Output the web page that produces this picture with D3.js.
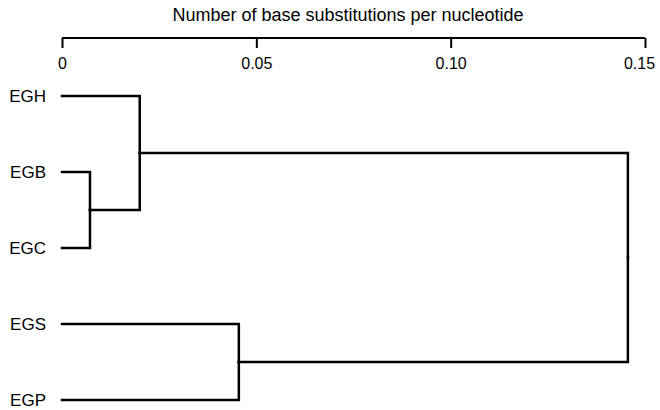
<!DOCTYPE html>
<html>
<head>
<meta charset="utf-8">
<script src="https://cdn.jsdelivr.net/npm/d3@7"></script>
<style>
    body { margin: 0; background: #fff; }
    svg { display: block; font-family: "Liberation Sans", Arial, Helvetica, sans-serif; }
    .axis path, .axis line { stroke: #000; stroke-width: 2px; }
    .axis text { font-size: 16px; fill: #000; }
    .branch { fill: none; stroke: #000; stroke-width: 2.5px; stroke-linecap: square; }
    .leaf-label { font-size: 17px; fill: #000; }
    .title { font-size: 18px; fill: #000; }
</style>
</head>
<body>
<div id="chart"></div>
<script>
// leaves, top to bottom
var leafNames = ["EGH", "EGB", "EGC", "EGS", "EGP"];

// joins: [child a, child b, branch height]
var joinNames = ["BC", "HBC", "SP", "root"];
var joinChildren = [["EGB", "EGC"], ["EGH", "BC"], ["EGS", "EGP"], ["HBC", "SP"]];
var joinHeights = [0.0072, 0.020, 0.0455, 0.1456];

var tickValues = [0, 0.05, 0.10, 0.15];
var tickLabels = ["0", "0.05", "0.10", "0.15"];
var axisTitle = "Number of base substitutions per nucleotide";

(function() {
    var w = 660, h = 410;
    var margin = {top: 38, left: 62, right: 15, bottom: 8};

    var svg = d3.select("#chart").append("svg")
        .attr("width", w)
        .attr("height", h);

    var x = d3.scaleLinear()
        .domain([0, 0.15])
        .range([margin.left, w - margin.right]);

    var y = d3.scalePoint()
        .domain(leafNames)
        .range([96, 400]);

    // build tree
    var heightOf = {}, kids = {};
    leafNames.forEach(function(n) { heightOf[n] = 0; });
    joinNames.forEach(function(n, i) {
        heightOf[n] = joinHeights[i];
        kids[n] = joinChildren[i];
    });
    function build(name) {
        var node = {name: name, h: heightOf[name]};
        if (kids[name]) node.children = kids[name].map(build);
        return node;
    }
    var root = d3.hierarchy(build("root"));

    // y of internal nodes = midpoint of children
    root.eachAfter(function(d) {
        d.py = d.children ? d3.mean(d.children, c => c.py) : y(d.data.name);
        d.px = x(d.data.h);
    });

    var xAxis = d3.axisBottom(x)
        .tickValues(tickValues)
        .tickFormat((d, i) => tickLabels[i])
        .tickSizeInner(10)
        .tickSizeOuter(0)
        .tickPadding(10);

    var gx = svg.append("g")
        .attr("class", "axis")
        .attr("transform", "translate(0," + margin.top + ")")
        .call(xAxis)
        .call(g => g.select(".domain").attr("d", "M" + x(0) + ",0H" + x(0.15)));

    // last label sits a bit left so it stays inside the frame
    gx.selectAll(".tick text").filter(d => d === 0.15).attr("dx", -6);

    svg.append("text")
        .attr("class", "title")
        .attr("x", 348)
        .attr("y", 21)
        .attr("text-anchor", "middle")
        .text(axisTitle);

    svg.append("g")
        .selectAll("path")
        .data(root.links())
        .enter()
        .append("path")
        .attr("class", "branch")
        .attr("d", l => "M" + l.source.px + "," + l.source.py +
            "V" + l.target.py + "H" + l.target.px);

    svg.append("g")
        .selectAll("text")
        .data(root.leaves())
        .enter()
        .append("text")
        .attr("class", "leaf-label")
        .attr("x", 46)
        .attr("y", d => d.py)
        .attr("dy", "0.33em")
        .attr("text-anchor", "end")
        .text(d => d.data.name);
})();
</script>
</body>
</html>
